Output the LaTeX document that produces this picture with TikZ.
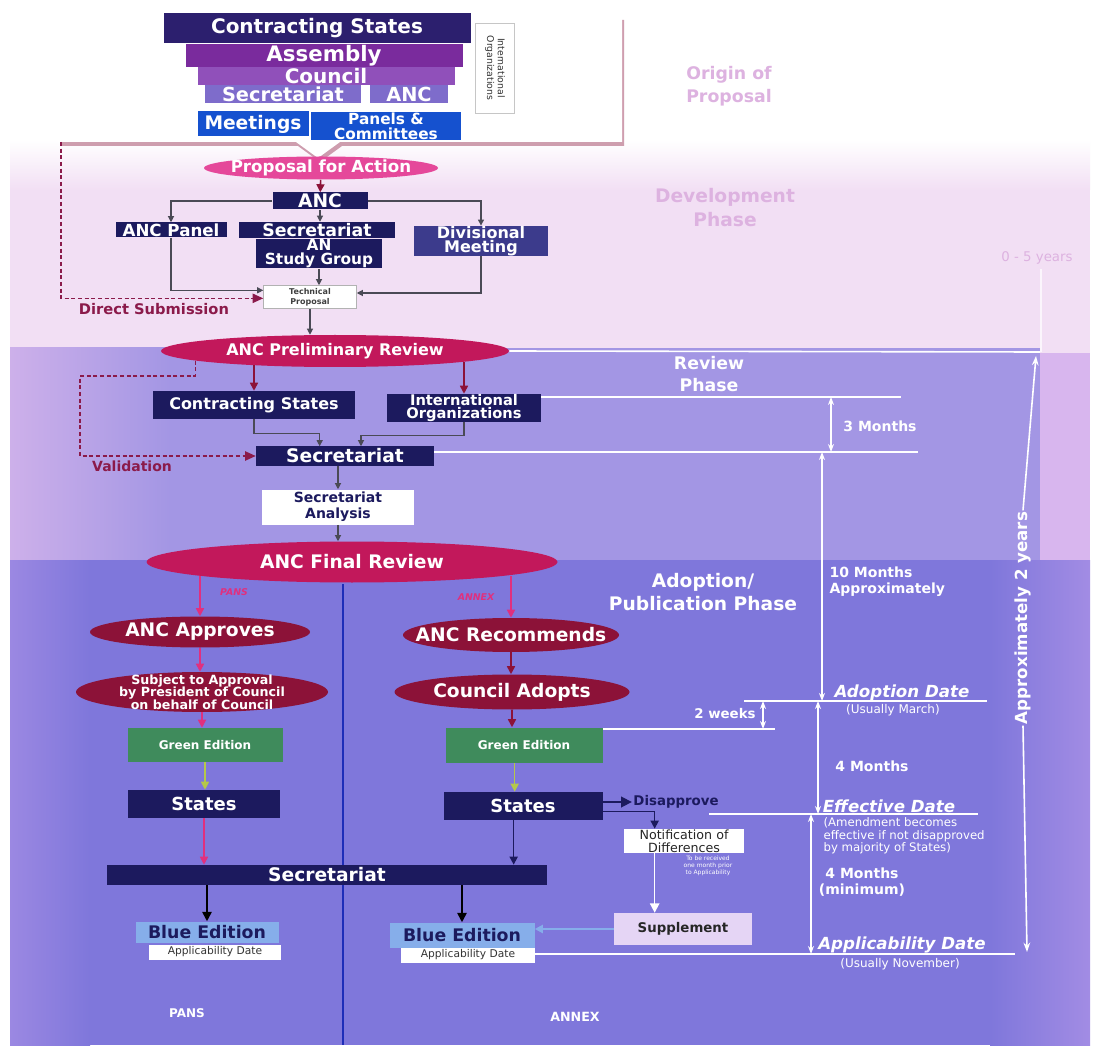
\documentclass[tikz,border=0pt]{standalone}
\usepackage{fontspec}
\setmainfont{DejaVu Sans}
\usetikzlibrary{shapes.geometric,arrows.meta,shadows}

\definecolor{topindigo}{HTML}{2C1F6E}
\definecolor{asmpurple}{HTML}{7A2B9D}
\definecolor{cnlpurple}{HTML}{9050BA}
\definecolor{seclav}{HTML}{7E6CCB}
\definecolor{mtgblue}{HTML}{1551CF}
\definecolor{icaonavy}{HTML}{1C1A5E}
\definecolor{divslate}{HTML}{3C3B8C}
\definecolor{pinkoval}{HTML}{E5489A}
\definecolor{crimson}{HTML}{C2185B}
\definecolor{darkcrim}{HTML}{8C1238}
\definecolor{greened}{HTML}{3F8B5C}
\definecolor{blueed}{HTML}{86AEEA}
\definecolor{suppfill}{HTML}{E5D5F5}
\definecolor{wiregray}{HTML}{4A4A55}
\definecolor{dashred}{HTML}{8B1A4A}
\definecolor{pinkarrow}{HTML}{E0307E}
\definecolor{limearrow}{HTML}{B5C84A}
\definecolor{divblue}{HTML}{1E2DB8}
\definecolor{devbg}{HTML}{F2DFF4}
\definecolor{revbg}{HTML}{A396E4}
\definecolor{revleft}{HTML}{CDB0EA}
\definecolor{revright}{HTML}{D8B6EE}
\definecolor{adpbg}{HTML}{7F77DB}
\definecolor{adpleft}{HTML}{9B88E2}
\definecolor{adpright}{HTML}{A28CE4}
\definecolor{phasepink}{HTML}{DDB2E0}
\definecolor{shadowpink}{HTML}{A8506E}

\newcommand{\txtsz}[2]{\fontsize{#1}{#2}\selectfont}

\begin{document}
\begin{tikzpicture}[x=0.75pt, y=-0.75pt,
    sz/.style 2 args={minimum width=#1*0.75pt, minimum height=#2*0.75pt},
    blk/.style={rectangle, inner sep=0pt, align=center, text=white},
    navybox/.style={blk, fill=icaonavy},
    ovl/.style={ellipse, inner xsep=-20pt, inner ysep=-4pt, align=center, text=white},
    wire/.style={draw=wiregray, line width=0.8pt, -{Triangle[length=4.5pt,width=4.5pt]}},
    redwire/.style={wire, draw=darkcrim, line width=1.2pt, -{Triangle[length=6pt,width=6pt]}},
    pinkwire/.style={redwire, draw=pinkarrow},
    limewire/.style={redwire, draw=limearrow},
    navwire/.style={redwire, draw=icaonavy},
    blkwire/.style={redwire, draw=black, -{Triangle[length=7pt,width=7pt]}},
    whitewire/.style={redwire, draw=white, -{Triangle[length=7pt,width=7pt]}},
    bluewire/.style={redwire, draw=blueed, line width=2pt},
    dashwire/.style={draw=dashred, line width=1pt, dash pattern=on 3pt off 2pt, -{Triangle[length=8pt,width=7pt]}},
    tline/.style={draw=white, line width=1.2pt},
    tarrow/.style={tline, {Stealth[length=6pt,width=4.5pt]}-{Stealth[length=6pt,width=4.5pt]}},
    whitelbl/.style={text=white, inner sep=1pt, align=center}]
\useasboundingbox (0,0) rectangle (1104,1059);

% phases
\fill[white] (0,0) rectangle (1104,1059);
\shade[top color=white, bottom color=devbg] (10,140) rectangle (1090,190);
\fill[devbg] (10,190) rectangle (1090,353);
\fill[revbg] (10,348) rectangle (1040,560);
\shade[left color=revleft, right color=revbg] (10,348) rectangle (170,560);
\fill[revright] (1040,353) rectangle (1090,560);
\fill[adpbg] (10,560) rectangle (1090,1045);
\shade[left color=adpleft, right color=adpbg] (10,560) rectangle (90,1045);
\shade[left color=adpbg, right color=adpright] (990,560) rectangle (1090,1045);

\fill[white, drop shadow={shadow xshift=1.5pt, shadow yshift=-3pt, fill=shadowpink, opacity=0.55}]
    (58,16) -- (622,16) -- (622,142) -- (340,142) -- (318,158) -- (296,142) -- (58,142) -- cycle;

\node[blk, fill=topindigo, sz={307}{30}, font=\bfseries\txtsz{15}{17}] (cstates) at (317,28) {Contracting States};
\node[blk, fill=asmpurple, sz={277}{23}, font=\bfseries\txtsz{16}{17}] (assembly) at (324,56) {Assembly};
\node[blk, fill=cnlpurple, sz={257}{18}, font=\bfseries\txtsz{15}{16}] (council) at (326,76) {Council};
\node[blk, fill=seclav, sz={156}{18}, font=\bfseries\txtsz{14.5}{16}] (secr0) at (283,94) {Secretariat};
\node[blk, fill=seclav, sz={78}{18}, font=\bfseries\txtsz{14.5}{16}] (anc0) at (409,94) {ANC};
\node[blk, fill=white, draw=gray!45, text=black!80, sz={90}{39}, rotate=-90, font=\txtsz{7}{8}] (intorg) at (495,68) {International\\Organizations};
\node[blk, fill=mtgblue, sz={111}{25}, font=\bfseries\txtsz{14}{15}] (meetings) at (253,124) {Meetings};
\node[blk, fill=mtgblue, sz={150}{28}, font=\bfseries\txtsz{11.5}{11.5}] (panels) at (386,126) {Panels \&\\Committees};

\node[ovl, fill=pinkoval, sz={234}{23}, font=\bfseries\txtsz{12.5}{14}] (proposal) at (321,168) {Proposal for Action};
\node[navybox, sz={95}{17}, font=\bfseries\txtsz{14}{15}] (ancnode) at (320,201) {ANC};
\node[navybox, sz={111}{15}, font=\bfseries\txtsz{12.5}{14}] (ancpanel) at (171,230) {ANC Panel};
\node[navybox, sz={156}{16}, font=\bfseries\txtsz{13}{14}] (secr1) at (317,230) {Secretariat};
\node[navybox, sz={126}{29}, font=\bfseries\txtsz{11.5}{10.5}] (studygrp) at (319,254) {AN\\Study Group};
\node[blk, fill=divslate, sz={134}{28}, font=\bfseries\txtsz{12}{11}] (divmeet) at (481,241) {Divisional\\Meeting};
\node[blk, fill=white, draw=gray!60, text=black!75, sz={93}{23}, font=\bfseries\txtsz{6}{7.5}] (techprop) at (310,297) {Technical\\Proposal};
\node[text=dashred, font=\bfseries\txtsz{11}{12}] (dsub) at (154,309) {Direct Submission};

\draw[redwire] (proposal) -- (ancnode);
\draw[wire] (ancnode.west) -| (ancpanel.north);
\draw[wire] (ancnode.east) -| (divmeet.north);
\draw[wire] (ancnode.south) -- (ancnode.south |- secr1.north);
\draw[wire] (studygrp.south) -- (studygrp.south |- techprop.north);
\coordinate (tpw) at ([yshift=5pt]techprop.west);
\coordinate (tpe) at ([yshift=3pt]techprop.east);
\coordinate (tpd) at ([yshift=-1pt]techprop.west);
\coordinate (subm) at (61,142);
\draw[wire] (ancpanel.south) |- (tpw);
\draw[wire] (divmeet.south) |- (tpe);
\draw[dashwire] (subm) |- (tpd);

% review
\node[ovl, fill=crimson, sz={348}{32}, font=\bfseries\txtsz{12}{13}] (prelim) at (335,351) {ANC Preliminary Review};
\node[navybox, sz={202}{28}, font=\bfseries\txtsz{12}{13}] (crstates) at (254,405) {Contracting States};
\node[navybox, sz={154}{28}, font=\bfseries\txtsz{11}{10}] (intorg2) at (464,408) {International\\Organizations};
\node[navybox, sz={178}{19}, font=\bfseries\txtsz{14}{15}] (secr2) at (345,456) {Secretariat};
\node[blk, fill=white, text=icaonavy, sz={152}{35}, font=\bfseries\txtsz{10.5}{12}] (secanal) at (338,507) {Secretariat\\Analysis};
\node[ovl, fill=crimson, sz={411}{41}, font=\bfseries\txtsz{14}{15}] (finalrev) at (352,562) {ANC Final Review};
\node[text=dashred, font=\bfseries\txtsz{10.5}{12}] (valid) at (132,466) {Validation};

\draw[wire] (techprop.south) -- (techprop.south |- prelim.north);
\draw[redwire] (prelim.190 -| crstates.north) -- (crstates.north);
\draw[redwire] (prelim.355 -| intorg2.north) -- (intorg2.north);
\coordinate (csj) at ([xshift=-19pt]secr2.north);
\coordinate (ioj) at ([xshift=12pt]secr2.north);
\draw[wire] (crstates.south) -- ++(0,14) -| (csj);
\draw[wire] (intorg2.south) -- ++(0,13) -| (ioj);
\draw[dashwire] (prelim.184) |- (80,376) |- (secr2.west);
\draw[wire] (secanal.north |- secr2.south) -- (secanal.north);
\draw[wire] (secanal.south) -- (secanal.south |- finalrev.north);

% adoption / publication
\draw[divblue, line width=2.2pt] (343,584) -- (343,1045);

\node[ovl, fill=darkcrim, sz={220}{31}, font=\bfseries\txtsz{14}{15}] (approves) at (200,632) {ANC Approves};
\node[ovl, fill=darkcrim, sz={252}{40}, font=\bfseries\txtsz{9.5}{9.5}] (subjappr) at (202,692) {Subject to Approval\\by President of Council\\on behalf of Council};
\node[blk, fill=greened, sz={155}{34}, font=\bfseries\txtsz{9}{10}] (greenp) at (205,745) {Green Edition};
\node[navybox, sz={152}{28}, font=\bfseries\txtsz{13.5}{15}] (statesp) at (204,804) {States};
\node[ovl, fill=darkcrim, sz={216}{34}, font=\bfseries\txtsz{14}{15}] (recomm) at (511,635) {ANC Recommends};
\node[ovl, fill=darkcrim, sz={235}{35}, font=\bfseries\txtsz{14}{15}] (adopts) at (512,692) {Council Adopts};
\node[blk, fill=greened, sz={157}{35}, font=\bfseries\txtsz{9}{10}] (greena) at (524,745) {Green Edition};
\node[navybox, sz={159}{28}, font=\bfseries\txtsz{13.5}{15}] (statesa) at (523,806) {States};
\node[navybox, sz={440}{20}, font=\bfseries\txtsz{14}{15}] (secr3) at (327,875) {Secretariat};

\node[blk, fill=blueed, text=icaonavy, sz={143}{21}, font=\bfseries\txtsz{13}{14}] (bluep) at (207,932) {Blue Edition};
\node[blk, fill=white, text=black!80, sz={132}{15}, font=\txtsz{8}{9}] (appdatep) at (215,952) {Applicability Date};
\node[blk, fill=blueed, text=icaonavy, sz={145}{25}, font=\bfseries\txtsz{13}{14}] (bluea) at (462,935) {Blue Edition};
\node[blk, fill=white, text=black!80, sz={134}{15}, font=\txtsz{8}{9}] (appdatea) at (468,955) {Applicability Date};
\node[blk, fill=white, text=black!85, sz={120}{24}, font=\txtsz{9.5}{10}] (notif) at (684,841) {Notification of\\Differences};
\node[blk, fill=suppfill, text=black!85, sz={138}{32}, font=\bfseries\txtsz{10}{11}] (supplement) at (683,929) {Supplement};
\node[text=icaonavy, inner sep=1pt, font=\bfseries\txtsz{10}{11}] (disap) at (676,802) {Disapprove};
\node[whitelbl, font=\txtsz{4.5}{5}] (recvnote) at (708,866) {To be received\\one month prior\\to Applicability};

\node[text=pinkarrow, font=\bfseries\itshape\txtsz{7}{8}] (pansl) at (234,592) {PANS};
\node[text=pinkarrow, font=\bfseries\itshape\txtsz{7}{8}] (annexl) at (476,597) {ANNEX};
\node[whitelbl, font=\bfseries\txtsz{9}{10}] (panst) at (187,1013) {PANS};
\node[whitelbl, font=\bfseries\txtsz{9.5}{10}] (annext) at (575,1017) {ANNEX};

\draw[pinkwire] (finalrev.185 -| approves.north) -- (approves.north);
\draw[pinkwire] (finalrev.355 -| recomm.north) -- (recomm.north);
\draw[pinkwire] (approves.south) -- (approves.south |- subjappr.north);
\draw[pinkwire] (subjappr.south) -- (subjappr.south |- greenp.north);
\draw[limewire] (greenp.south) -- (greenp.south |- statesp.north);
\draw[pinkwire] (statesp.south) -- (statesp.south |- secr3.north);
\draw[redwire] (recomm.south) -- (recomm.south |- adopts.north);
\draw[redwire] (adopts.south) -- (adopts.south |- greena.north);
\coordinate (gas) at ([xshift=-7pt]greena.south);
\coordinate (sas) at ([xshift=-7pt]statesa.south);
\draw[limewire] (gas) -- (gas |- statesa.north);
\draw[navwire] (sas) -- (sas |- secr3.north);
\draw[blkwire] (secr3.south -| bluep.north) -- (bluep.north);
\draw[blkwire] (secr3.south -| bluea.north) -- (bluea.north);
\coordinate (sad) at ([yshift=3pt]statesa.east);
\coordinate (san) at ([yshift=-4pt]statesa.east);
\coordinate (ntop) at ([xshift=-22pt]notif.north);
\coordinate (nbot) at ([xshift=-22pt]notif.south);
\draw[navwire, -{Triangle[length=8pt,width=8pt]}] (sad) -- (sad -| disap.west);
\draw[navwire] (san) -| (ntop);
\draw[whitewire] (nbot) -- (nbot |- supplement.north);
\draw[bluewire] (supplement.west) -- (supplement.west -| bluea.east);

% time line
\node[text=phasepink, align=center, font=\bfseries\txtsz{13}{17}] (origin) at (729,86) {Origin of\\Proposal};
\node[text=phasepink, align=center, font=\bfseries\txtsz{14}{18}] (devph) at (725,208) {Development\\Phase};
\node[whitelbl, font=\bfseries\txtsz{13}{16}] (revph) at (709,374) {Review\\Phase};
\node[whitelbl, font=\bfseries\txtsz{14}{17}] (adpph) at (703,592) {Adoption/\\Publication Phase};
\node[text=phasepink, font=\txtsz{10}{11}] (yrs5) at (1037,258) {0 - 5 years};

\node[whitelbl, font=\bfseries\txtsz{10.5}{12}] (m3) at (880,426) {3 Months};
\node[whitelbl, anchor=west, align=left, font=\bfseries\txtsz{10.5}{12}] (m10) at (828,582) {10 Months\\Approximately};
\node[whitelbl, font=\bfseries\itshape\txtsz{12.5}{14}] (adate) at (902,693) {Adoption Date};
\node[whitelbl, font=\txtsz{9}{10}] (umarch) at (893,710) {(Usually March)};
\node[whitelbl, font=\bfseries\txtsz{10}{11}] (wk2) at (725,714) {2 weeks};
\node[whitelbl, font=\bfseries\txtsz{10.5}{12}] (m4) at (872,766) {4 Months};
\node[whitelbl, font=\bfseries\itshape\txtsz{12.5}{14}] (edate) at (889,806) {Effective Date};
\node[whitelbl, anchor=west, align=left, font=\txtsz{8.8}{9.5}] (amend) at (822,836) {(Amendment becomes\\effective if not disapproved\\by majority of States)};
\node[whitelbl, font=\bfseries\txtsz{10.5}{12}] (m4min) at (862,882) {4 Months\\(minimum)};
\node[whitelbl, font=\bfseries\itshape\txtsz{12.5}{14}] (apdate) at (902,945) {Applicability Date};
\node[whitelbl, font=\txtsz{9}{10}] (unov) at (900,964) {(Usually November)};
\node[whitelbl, rotate=90, font=\bfseries\txtsz{12.5}{14}] (yrs2) at (1023,618) {Approximately 2 years};

\coordinate (rvtop) at (1040,352);
\coordinate (t3a) at (901,397);
\coordinate (t3b) at (918,452);
\coordinate (t2w) at (775,729);
\coordinate (tapp) at (1015,954);
\draw[tline] (prelim.east) -- (rvtop);
\draw[tline] (intorg2.north east |- t3a) -- (t3a);
\draw[tline] (secr2.east |- t3b) -- (t3b);
\draw[tarrow] (831,397) -- (831,452);
\draw[tarrow] (822,452) -- (822,701);
\draw[tline] (744,701) -- (987,701);
\draw[tline] (greena.north east |- t2w) -- (t2w);
\draw[tarrow] (763,701) -- (763,729);
\draw[tarrow] (818,701) -- (818,814);
\draw[tline] (709,814) -- (978,814);
\draw[tarrow] (811,814) -- (811,954);
\draw[tline] (appdatea.east |- tapp) -- (tapp);
\draw[tline, -{Stealth[length=7pt,width=5pt]}] (yrs2.east) -- (1036,356);
\draw[tline, -{Stealth[length=7pt,width=5pt]}] (yrs2.west) -- (1027,952);
\draw[white!70!devbg, line width=1pt] (yrs5.south -| 1041,0) -- (1041,352);

\end{tikzpicture}
\end{document}
